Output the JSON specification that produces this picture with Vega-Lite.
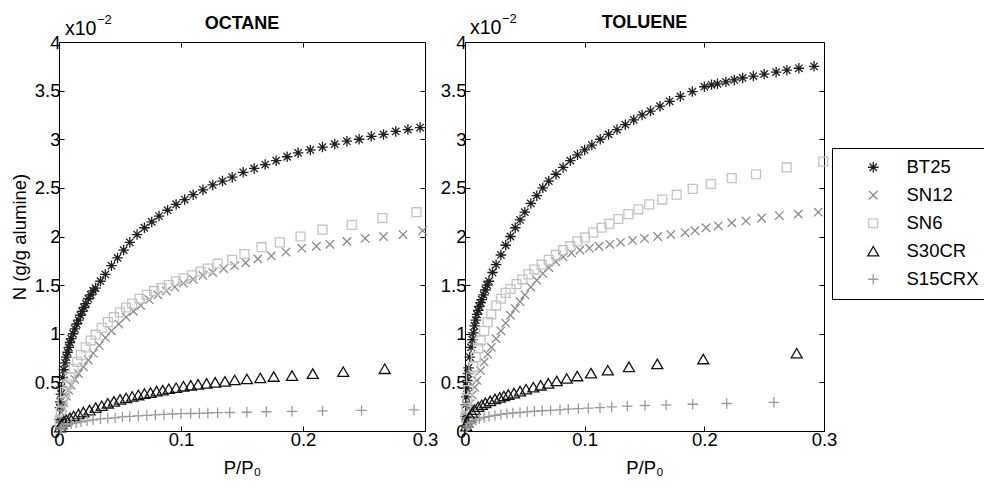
{
"$schema": "https://vega.github.io/schema/vega-lite/v6.json",
"background": "white",
"padding": {"left": 9, "top": 12, "right": 0, "bottom": 0},
"config": {
 "font": "Liberation Sans",
 "view": {"stroke": "#000", "strokeWidth": 1},
 "axis": {"grid": false, "domain": false, "tickColor": "#000", "tickSize": -5, "labelColor": "#000", "labelFontSize": 18.5, "labelFont": "Liberation Sans", "titleFont": "Liberation Sans", "titleFontSize": 18.5, "titleFontWeight": "normal", "titleColor": "#000", "labelFlush": false, "labelOverlap": false, "labelPadding": 4},
 "title": {"fontSize": 18, "fontWeight": "bold", "font": "Liberation Sans", "color": "#000", "offset": -19},
 "legend": {"orient": "none", "legendX": 773, "legendY": 106, "strokeColor": "#000", "strokeWidth": 1, "fillColor": "white", "padding": 10, "rowPadding": 9, "symbolOffset": 22, "labelOffset": 24, "labelFontSize": 18.5, "labelFont": "Liberation Sans", "labelColor": "#000", "symbolStrokeWidth": 1.3, "symbolSize": 110}
},
"datasets": {
 "d": [
{"p":"O","s":"BT25","x":0.0003,"y":0.12},{"p":"O","s":"BT25","x":0.0007,"y":0.24},{"p":"O","s":"BT25","x":0.001,"y":0.30},{"p":"O","s":"BT25","x":0.0015,"y":0.38},{"p":"O","s":"BT25","x":0.002,"y":0.45},{"p":"O","s":"BT25","x":0.003,"y":0.55},{"p":"O","s":"BT25","x":0.004,"y":0.63},{"p":"O","s":"BT25","x":0.005,"y":0.70},{"p":"O","s":"BT25","x":0.006,"y":0.76},{"p":"O","s":"BT25","x":0.007,"y":0.81},{"p":"O","s":"BT25","x":0.008,"y":0.86},{"p":"O","s":"BT25","x":0.009,"y":0.91},{"p":"O","s":"BT25","x":0.010,"y":0.95},{"p":"O","s":"BT25","x":0.0115,"y":1.00},{"p":"O","s":"BT25","x":0.013,"y":1.05},{"p":"O","s":"BT25","x":0.0145,"y":1.10},{"p":"O","s":"BT25","x":0.016,"y":1.14},{"p":"O","s":"BT25","x":0.0175,"y":1.19},{"p":"O","s":"BT25","x":0.019,"y":1.23},{"p":"O","s":"BT25","x":0.0205,"y":1.27},{"p":"O","s":"BT25","x":0.022,"y":1.31},{"p":"O","s":"BT25","x":0.024,"y":1.36},{"p":"O","s":"BT25","x":0.026,"y":1.40},{"p":"O","s":"BT25","x":0.028,"y":1.44},{"p":"O","s":"BT25","x":0.030,"y":1.47},{"p":"O","s":"BT25","x":0.034,"y":1.54},{"p":"O","s":"BT25","x":0.038,"y":1.61},{"p":"O","s":"BT25","x":0.043,"y":1.70},{"p":"O","s":"BT25","x":0.048,"y":1.78},{"p":"O","s":"BT25","x":0.053,"y":1.86},{"p":"O","s":"BT25","x":0.058,"y":1.94},{"p":"O","s":"BT25","x":0.064,"y":2.02},{"p":"O","s":"BT25","x":0.070,"y":2.09},{"p":"O","s":"BT25","x":0.076,"y":2.15},{"p":"O","s":"BT25","x":0.082,"y":2.21},{"p":"O","s":"BT25","x":0.089,"y":2.27},{"p":"O","s":"BT25","x":0.096,"y":2.33},{"p":"O","s":"BT25","x":0.103,"y":2.38},{"p":"O","s":"BT25","x":0.110,"y":2.43},{"p":"O","s":"BT25","x":0.118,"y":2.48},{"p":"O","s":"BT25","x":0.126,"y":2.53},{"p":"O","s":"BT25","x":0.134,"y":2.57},{"p":"O","s":"BT25","x":0.142,"y":2.61},{"p":"O","s":"BT25","x":0.151,"y":2.66},{"p":"O","s":"BT25","x":0.160,"y":2.70},{"p":"O","s":"BT25","x":0.169,"y":2.74},{"p":"O","s":"BT25","x":0.178,"y":2.78},{"p":"O","s":"BT25","x":0.187,"y":2.82},{"p":"O","s":"BT25","x":0.196,"y":2.86},{"p":"O","s":"BT25","x":0.206,"y":2.89},{"p":"O","s":"BT25","x":0.216,"y":2.92},{"p":"O","s":"BT25","x":0.226,"y":2.95},{"p":"O","s":"BT25","x":0.236,"y":2.98},{"p":"O","s":"BT25","x":0.246,"y":3.00},{"p":"O","s":"BT25","x":0.256,"y":3.03},{"p":"O","s":"BT25","x":0.266,"y":3.05},{"p":"O","s":"BT25","x":0.276,"y":3.08},{"p":"O","s":"BT25","x":0.286,"y":3.10},{"p":"O","s":"BT25","x":0.296,"y":3.12},
{"p":"O","s":"SN12","x":0.0005,"y":0.07},{"p":"O","s":"SN12","x":0.001,"y":0.12},{"p":"O","s":"SN12","x":0.002,"y":0.19},{"p":"O","s":"SN12","x":0.003,"y":0.24},{"p":"O","s":"SN12","x":0.004,"y":0.29},{"p":"O","s":"SN12","x":0.006,"y":0.36},{"p":"O","s":"SN12","x":0.008,"y":0.42},{"p":"O","s":"SN12","x":0.010,"y":0.47},{"p":"O","s":"SN12","x":0.013,"y":0.53},{"p":"O","s":"SN12","x":0.016,"y":0.59},{"p":"O","s":"SN12","x":0.020,"y":0.66},{"p":"O","s":"SN12","x":0.024,"y":0.73},{"p":"O","s":"SN12","x":0.028,"y":0.80},{"p":"O","s":"SN12","x":0.033,"y":0.88},{"p":"O","s":"SN12","x":0.038,"y":0.96},{"p":"O","s":"SN12","x":0.043,"y":1.03},{"p":"O","s":"SN12","x":0.049,"y":1.10},{"p":"O","s":"SN12","x":0.055,"y":1.17},{"p":"O","s":"SN12","x":0.061,"y":1.23},{"p":"O","s":"SN12","x":0.067,"y":1.29},{"p":"O","s":"SN12","x":0.074,"y":1.35},{"p":"O","s":"SN12","x":0.081,"y":1.40},{"p":"O","s":"SN12","x":0.088,"y":1.44},{"p":"O","s":"SN12","x":0.095,"y":1.48},{"p":"O","s":"SN12","x":0.102,"y":1.52},{"p":"O","s":"SN12","x":0.110,"y":1.56},{"p":"O","s":"SN12","x":0.118,"y":1.60},{"p":"O","s":"SN12","x":0.126,"y":1.63},{"p":"O","s":"SN12","x":0.135,"y":1.67},{"p":"O","s":"SN12","x":0.144,"y":1.70},{"p":"O","s":"SN12","x":0.153,"y":1.73},{"p":"O","s":"SN12","x":0.163,"y":1.77},{"p":"O","s":"SN12","x":0.174,"y":1.80},{"p":"O","s":"SN12","x":0.186,"y":1.84},{"p":"O","s":"SN12","x":0.199,"y":1.88},{"p":"O","s":"SN12","x":0.211,"y":1.90},{"p":"O","s":"SN12","x":0.222,"y":1.92},{"p":"O","s":"SN12","x":0.236,"y":1.95},{"p":"O","s":"SN12","x":0.251,"y":1.98},{"p":"O","s":"SN12","x":0.266,"y":2.00},{"p":"O","s":"SN12","x":0.282,"y":2.02},{"p":"O","s":"SN12","x":0.298,"y":2.06},
{"p":"O","s":"SN6","x":0.0005,"y":0.10},{"p":"O","s":"SN6","x":0.0015,"y":0.20},{"p":"O","s":"SN6","x":0.003,"y":0.30},{"p":"O","s":"SN6","x":0.005,"y":0.40},{"p":"O","s":"SN6","x":0.007,"y":0.48},{"p":"O","s":"SN6","x":0.009,"y":0.55},{"p":"O","s":"SN6","x":0.012,"y":0.64},{"p":"O","s":"SN6","x":0.015,"y":0.71},{"p":"O","s":"SN6","x":0.018,"y":0.78},{"p":"O","s":"SN6","x":0.022,"y":0.86},{"p":"O","s":"SN6","x":0.026,"y":0.93},{"p":"O","s":"SN6","x":0.030,"y":0.99},{"p":"O","s":"SN6","x":0.035,"y":1.06},{"p":"O","s":"SN6","x":0.040,"y":1.12},{"p":"O","s":"SN6","x":0.045,"y":1.17},{"p":"O","s":"SN6","x":0.050,"y":1.22},{"p":"O","s":"SN6","x":0.055,"y":1.27},{"p":"O","s":"SN6","x":0.060,"y":1.31},{"p":"O","s":"SN6","x":0.066,"y":1.36},{"p":"O","s":"SN6","x":0.072,"y":1.40},{"p":"O","s":"SN6","x":0.078,"y":1.44},{"p":"O","s":"SN6","x":0.084,"y":1.47},{"p":"O","s":"SN6","x":0.090,"y":1.50},{"p":"O","s":"SN6","x":0.096,"y":1.54},{"p":"O","s":"SN6","x":0.102,"y":1.57},{"p":"O","s":"SN6","x":0.109,"y":1.60},{"p":"O","s":"SN6","x":0.116,"y":1.64},{"p":"O","s":"SN6","x":0.122,"y":1.67},{"p":"O","s":"SN6","x":0.130,"y":1.72},{"p":"O","s":"SN6","x":0.142,"y":1.76},{"p":"O","s":"SN6","x":0.152,"y":1.82},{"p":"O","s":"SN6","x":0.166,"y":1.89},{"p":"O","s":"SN6","x":0.181,"y":1.94},{"p":"O","s":"SN6","x":0.198,"y":2.00},{"p":"O","s":"SN6","x":0.216,"y":2.07},{"p":"O","s":"SN6","x":0.240,"y":2.12},{"p":"O","s":"SN6","x":0.265,"y":2.19},{"p":"O","s":"SN6","x":0.293,"y":2.25},
{"p":"O","s":"S30CR","x":0.001,"y":0.04},{"p":"O","s":"S30CR","x":0.002,"y":0.07},{"p":"O","s":"S30CR","x":0.004,"y":0.10},{"p":"O","s":"S30CR","x":0.006,"y":0.115},{"p":"O","s":"S30CR","x":0.009,"y":0.135},{"p":"O","s":"S30CR","x":0.012,"y":0.155},{"p":"O","s":"S30CR","x":0.016,"y":0.175},{"p":"O","s":"S30CR","x":0.020,"y":0.195},{"p":"O","s":"S30CR","x":0.025,"y":0.215},{"p":"O","s":"S30CR","x":0.030,"y":0.24},{"p":"O","s":"S30CR","x":0.035,"y":0.26},{"p":"O","s":"S30CR","x":0.040,"y":0.285},{"p":"O","s":"S30CR","x":0.045,"y":0.305},{"p":"O","s":"S30CR","x":0.050,"y":0.325},{"p":"O","s":"S30CR","x":0.055,"y":0.34},{"p":"O","s":"S30CR","x":0.060,"y":0.355},{"p":"O","s":"S30CR","x":0.065,"y":0.37},{"p":"O","s":"S30CR","x":0.070,"y":0.385},{"p":"O","s":"S30CR","x":0.075,"y":0.395},{"p":"O","s":"S30CR","x":0.080,"y":0.41},{"p":"O","s":"S30CR","x":0.085,"y":0.42},{"p":"O","s":"S30CR","x":0.090,"y":0.435},{"p":"O","s":"S30CR","x":0.096,"y":0.445},{"p":"O","s":"S30CR","x":0.102,"y":0.46},{"p":"O","s":"S30CR","x":0.108,"y":0.47},{"p":"O","s":"S30CR","x":0.114,"y":0.48},{"p":"O","s":"S30CR","x":0.121,"y":0.49},{"p":"O","s":"S30CR","x":0.128,"y":0.50},{"p":"O","s":"S30CR","x":0.136,"y":0.51},{"p":"O","s":"S30CR","x":0.144,"y":0.525},{"p":"O","s":"S30CR","x":0.154,"y":0.535},{"p":"O","s":"S30CR","x":0.165,"y":0.545},{"p":"O","s":"S30CR","x":0.176,"y":0.56},{"p":"O","s":"S30CR","x":0.191,"y":0.57},{"p":"O","s":"S30CR","x":0.208,"y":0.59},{"p":"O","s":"S30CR","x":0.233,"y":0.61},{"p":"O","s":"S30CR","x":0.267,"y":0.64},
{"p":"O","s":"S15CRX","x":0.001,"y":0.02},{"p":"O","s":"S15CRX","x":0.002,"y":0.035},{"p":"O","s":"S15CRX","x":0.004,"y":0.05},{"p":"O","s":"S15CRX","x":0.007,"y":0.065},{"p":"O","s":"S15CRX","x":0.010,"y":0.075},{"p":"O","s":"S15CRX","x":0.014,"y":0.085},{"p":"O","s":"S15CRX","x":0.018,"y":0.095},{"p":"O","s":"S15CRX","x":0.023,"y":0.105},{"p":"O","s":"S15CRX","x":0.028,"y":0.115},{"p":"O","s":"S15CRX","x":0.034,"y":0.125},{"p":"O","s":"S15CRX","x":0.040,"y":0.13},{"p":"O","s":"S15CRX","x":0.046,"y":0.135},{"p":"O","s":"S15CRX","x":0.052,"y":0.145},{"p":"O","s":"S15CRX","x":0.058,"y":0.15},{"p":"O","s":"S15CRX","x":0.065,"y":0.155},{"p":"O","s":"S15CRX","x":0.072,"y":0.16},{"p":"O","s":"S15CRX","x":0.079,"y":0.165},{"p":"O","s":"S15CRX","x":0.086,"y":0.17},{"p":"O","s":"S15CRX","x":0.093,"y":0.175},{"p":"O","s":"S15CRX","x":0.100,"y":0.178},{"p":"O","s":"S15CRX","x":0.108,"y":0.18},{"p":"O","s":"S15CRX","x":0.115,"y":0.182},{"p":"O","s":"S15CRX","x":0.122,"y":0.185},{"p":"O","s":"S15CRX","x":0.130,"y":0.188},{"p":"O","s":"S15CRX","x":0.140,"y":0.19},{"p":"O","s":"S15CRX","x":0.154,"y":0.193},{"p":"O","s":"S15CRX","x":0.170,"y":0.198},{"p":"O","s":"S15CRX","x":0.191,"y":0.202},{"p":"O","s":"S15CRX","x":0.216,"y":0.207},{"p":"O","s":"S15CRX","x":0.248,"y":0.212},{"p":"O","s":"S15CRX","x":0.291,"y":0.218},
{"p":"T","s":"BT25","x":0.0003,"y":0.15},{"p":"T","s":"BT25","x":0.0007,"y":0.27},{"p":"T","s":"BT25","x":0.001,"y":0.35},{"p":"T","s":"BT25","x":0.0015,"y":0.44},{"p":"T","s":"BT25","x":0.002,"y":0.52},{"p":"T","s":"BT25","x":0.0025,"y":0.59},{"p":"T","s":"BT25","x":0.003,"y":0.65},{"p":"T","s":"BT25","x":0.004,"y":0.76},{"p":"T","s":"BT25","x":0.005,"y":0.86},{"p":"T","s":"BT25","x":0.006,"y":0.94},{"p":"T","s":"BT25","x":0.007,"y":1.01},{"p":"T","s":"BT25","x":0.008,"y":1.08},{"p":"T","s":"BT25","x":0.009,"y":1.14},{"p":"T","s":"BT25","x":0.010,"y":1.20},{"p":"T","s":"BT25","x":0.011,"y":1.24},{"p":"T","s":"BT25","x":0.012,"y":1.28},{"p":"T","s":"BT25","x":0.013,"y":1.32},{"p":"T","s":"BT25","x":0.014,"y":1.35},{"p":"T","s":"BT25","x":0.0155,"y":1.40},{"p":"T","s":"BT25","x":0.017,"y":1.45},{"p":"T","s":"BT25","x":0.0185,"y":1.50},{"p":"T","s":"BT25","x":0.020,"y":1.54},{"p":"T","s":"BT25","x":0.023,"y":1.63},{"p":"T","s":"BT25","x":0.026,"y":1.71},{"p":"T","s":"BT25","x":0.030,"y":1.81},{"p":"T","s":"BT25","x":0.034,"y":1.91},{"p":"T","s":"BT25","x":0.038,"y":2.00},{"p":"T","s":"BT25","x":0.042,"y":2.09},{"p":"T","s":"BT25","x":0.046,"y":2.17},{"p":"T","s":"BT25","x":0.050,"y":2.25},{"p":"T","s":"BT25","x":0.055,"y":2.34},{"p":"T","s":"BT25","x":0.060,"y":2.42},{"p":"T","s":"BT25","x":0.065,"y":2.50},{"p":"T","s":"BT25","x":0.070,"y":2.57},{"p":"T","s":"BT25","x":0.076,"y":2.64},{"p":"T","s":"BT25","x":0.082,"y":2.71},{"p":"T","s":"BT25","x":0.088,"y":2.78},{"p":"T","s":"BT25","x":0.094,"y":2.84},{"p":"T","s":"BT25","x":0.100,"y":2.89},{"p":"T","s":"BT25","x":0.106,"y":2.94},{"p":"T","s":"BT25","x":0.113,"y":3.00},{"p":"T","s":"BT25","x":0.120,"y":3.05},{"p":"T","s":"BT25","x":0.127,"y":3.10},{"p":"T","s":"BT25","x":0.134,"y":3.15},{"p":"T","s":"BT25","x":0.141,"y":3.20},{"p":"T","s":"BT25","x":0.148,"y":3.25},{"p":"T","s":"BT25","x":0.155,"y":3.29},{"p":"T","s":"BT25","x":0.163,"y":3.34},{"p":"T","s":"BT25","x":0.171,"y":3.39},{"p":"T","s":"BT25","x":0.180,"y":3.44},{"p":"T","s":"BT25","x":0.190,"y":3.49},{"p":"T","s":"BT25","x":0.200,"y":3.54},{"p":"T","s":"BT25","x":0.206,"y":3.56},{"p":"T","s":"BT25","x":0.211,"y":3.57},{"p":"T","s":"BT25","x":0.218,"y":3.59},{"p":"T","s":"BT25","x":0.225,"y":3.61},{"p":"T","s":"BT25","x":0.232,"y":3.63},{"p":"T","s":"BT25","x":0.241,"y":3.65},{"p":"T","s":"BT25","x":0.250,"y":3.67},{"p":"T","s":"BT25","x":0.260,"y":3.69},{"p":"T","s":"BT25","x":0.269,"y":3.71},{"p":"T","s":"BT25","x":0.279,"y":3.73},{"p":"T","s":"BT25","x":0.2917,"y":3.75},
{"p":"T","s":"SN12","x":0.0005,"y":0.06},{"p":"T","s":"SN12","x":0.001,"y":0.10},{"p":"T","s":"SN12","x":0.002,"y":0.17},{"p":"T","s":"SN12","x":0.003,"y":0.23},{"p":"T","s":"SN12","x":0.004,"y":0.28},{"p":"T","s":"SN12","x":0.006,"y":0.37},{"p":"T","s":"SN12","x":0.008,"y":0.45},{"p":"T","s":"SN12","x":0.010,"y":0.52},{"p":"T","s":"SN12","x":0.013,"y":0.62},{"p":"T","s":"SN12","x":0.016,"y":0.71},{"p":"T","s":"SN12","x":0.019,"y":0.79},{"p":"T","s":"SN12","x":0.022,"y":0.86},{"p":"T","s":"SN12","x":0.026,"y":0.95},{"p":"T","s":"SN12","x":0.030,"y":1.03},{"p":"T","s":"SN12","x":0.034,"y":1.11},{"p":"T","s":"SN12","x":0.038,"y":1.19},{"p":"T","s":"SN12","x":0.042,"y":1.26},{"p":"T","s":"SN12","x":0.046,"y":1.33},{"p":"T","s":"SN12","x":0.050,"y":1.40},{"p":"T","s":"SN12","x":0.055,"y":1.48},{"p":"T","s":"SN12","x":0.060,"y":1.55},{"p":"T","s":"SN12","x":0.065,"y":1.62},{"p":"T","s":"SN12","x":0.070,"y":1.68},{"p":"T","s":"SN12","x":0.076,"y":1.74},{"p":"T","s":"SN12","x":0.082,"y":1.79},{"p":"T","s":"SN12","x":0.089,"y":1.83},{"p":"T","s":"SN12","x":0.096,"y":1.86},{"p":"T","s":"SN12","x":0.104,"y":1.88},{"p":"T","s":"SN12","x":0.112,"y":1.90},{"p":"T","s":"SN12","x":0.121,"y":1.92},{"p":"T","s":"SN12","x":0.130,"y":1.94},{"p":"T","s":"SN12","x":0.140,"y":1.96},{"p":"T","s":"SN12","x":0.150,"y":1.98},{"p":"T","s":"SN12","x":0.161,"y":2.00},{"p":"T","s":"SN12","x":0.172,"y":2.02},{"p":"T","s":"SN12","x":0.1839,"y":2.04},{"p":"T","s":"SN12","x":0.1922,"y":2.06},{"p":"T","s":"SN12","x":0.2014,"y":2.09},{"p":"T","s":"SN12","x":0.2117,"y":2.11},{"p":"T","s":"SN12","x":0.2229,"y":2.14},{"p":"T","s":"SN12","x":0.2348,"y":2.16},{"p":"T","s":"SN12","x":0.2479,"y":2.19},{"p":"T","s":"SN12","x":0.2627,"y":2.215},{"p":"T","s":"SN12","x":0.2785,"y":2.23},{"p":"T","s":"SN12","x":0.2952,"y":2.25},
{"p":"T","s":"SN6","x":0.0005,"y":0.15},{"p":"T","s":"SN6","x":0.001,"y":0.22},{"p":"T","s":"SN6","x":0.002,"y":0.33},{"p":"T","s":"SN6","x":0.003,"y":0.42},{"p":"T","s":"SN6","x":0.005,"y":0.55},{"p":"T","s":"SN6","x":0.007,"y":0.66},{"p":"T","s":"SN6","x":0.009,"y":0.76},{"p":"T","s":"SN6","x":0.011,"y":0.85},{"p":"T","s":"SN6","x":0.013,"y":0.93},{"p":"T","s":"SN6","x":0.016,"y":1.03},{"p":"T","s":"SN6","x":0.019,"y":1.12},{"p":"T","s":"SN6","x":0.022,"y":1.20},{"p":"T","s":"SN6","x":0.026,"y":1.29},{"p":"T","s":"SN6","x":0.030,"y":1.36},{"p":"T","s":"SN6","x":0.034,"y":1.42},{"p":"T","s":"SN6","x":0.038,"y":1.46},{"p":"T","s":"SN6","x":0.043,"y":1.51},{"p":"T","s":"SN6","x":0.048,"y":1.56},{"p":"T","s":"SN6","x":0.053,"y":1.61},{"p":"T","s":"SN6","x":0.058,"y":1.66},{"p":"T","s":"SN6","x":0.064,"y":1.71},{"p":"T","s":"SN6","x":0.070,"y":1.76},{"p":"T","s":"SN6","x":0.076,"y":1.81},{"p":"T","s":"SN6","x":0.082,"y":1.86},{"p":"T","s":"SN6","x":0.088,"y":1.90},{"p":"T","s":"SN6","x":0.094,"y":1.95},{"p":"T","s":"SN6","x":0.1003,"y":1.99},{"p":"T","s":"SN6","x":0.1072,"y":2.04},{"p":"T","s":"SN6","x":0.1142,"y":2.09},{"p":"T","s":"SN6","x":0.1206,"y":2.13},{"p":"T","s":"SN6","x":0.1281,"y":2.18},{"p":"T","s":"SN6","x":0.1365,"y":2.23},{"p":"T","s":"SN6","x":0.1448,"y":2.28},{"p":"T","s":"SN6","x":0.1540,"y":2.33},{"p":"T","s":"SN6","x":0.1649,"y":2.38},{"p":"T","s":"SN6","x":0.1769,"y":2.43},{"p":"T","s":"SN6","x":0.1903,"y":2.49},{"p":"T","s":"SN6","x":0.2053,"y":2.54},{"p":"T","s":"SN6","x":0.2229,"y":2.60},{"p":"T","s":"SN6","x":0.2432,"y":2.64},{"p":"T","s":"SN6","x":0.2688,"y":2.71},{"p":"T","s":"SN6","x":0.2994,"y":2.77},
{"p":"T","s":"S30CR","x":0.001,"y":0.05},{"p":"T","s":"S30CR","x":0.002,"y":0.09},{"p":"T","s":"S30CR","x":0.004,"y":0.15},{"p":"T","s":"S30CR","x":0.006,"y":0.19},{"p":"T","s":"S30CR","x":0.008,"y":0.22},{"p":"T","s":"S30CR","x":0.011,"y":0.25},{"p":"T","s":"S30CR","x":0.014,"y":0.27},{"p":"T","s":"S30CR","x":0.017,"y":0.29},{"p":"T","s":"S30CR","x":0.021,"y":0.31},{"p":"T","s":"S30CR","x":0.025,"y":0.33},{"p":"T","s":"S30CR","x":0.029,"y":0.345},{"p":"T","s":"S30CR","x":0.0325,"y":0.36},{"p":"T","s":"S30CR","x":0.0362,"y":0.375},{"p":"T","s":"S30CR","x":0.0409,"y":0.39},{"p":"T","s":"S30CR","x":0.046,"y":0.41},{"p":"T","s":"S30CR","x":0.051,"y":0.43},{"p":"T","s":"S30CR","x":0.0571,"y":0.45},{"p":"T","s":"S30CR","x":0.0632,"y":0.47},{"p":"T","s":"S30CR","x":0.0696,"y":0.49},{"p":"T","s":"S30CR","x":0.0766,"y":0.515},{"p":"T","s":"S30CR","x":0.085,"y":0.54},{"p":"T","s":"S30CR","x":0.0938,"y":0.565},{"p":"T","s":"S30CR","x":0.1053,"y":0.595},{"p":"T","s":"S30CR","x":0.1193,"y":0.625},{"p":"T","s":"S30CR","x":0.137,"y":0.66},{"p":"T","s":"S30CR","x":0.1607,"y":0.69},{"p":"T","s":"S30CR","x":0.1991,"y":0.74},{"p":"T","s":"S30CR","x":0.2772,"y":0.80},
{"p":"T","s":"S15CRX","x":0.001,"y":0.03},{"p":"T","s":"S15CRX","x":0.002,"y":0.05},{"p":"T","s":"S15CRX","x":0.004,"y":0.075},{"p":"T","s":"S15CRX","x":0.006,"y":0.09},{"p":"T","s":"S15CRX","x":0.009,"y":0.11},{"p":"T","s":"S15CRX","x":0.012,"y":0.125},{"p":"T","s":"S15CRX","x":0.016,"y":0.14},{"p":"T","s":"S15CRX","x":0.020,"y":0.15},{"p":"T","s":"S15CRX","x":0.025,"y":0.16},{"p":"T","s":"S15CRX","x":0.030,"y":0.17},{"p":"T","s":"S15CRX","x":0.035,"y":0.178},{"p":"T","s":"S15CRX","x":0.040,"y":0.185},{"p":"T","s":"S15CRX","x":0.046,"y":0.19},{"p":"T","s":"S15CRX","x":0.052,"y":0.197},{"p":"T","s":"S15CRX","x":0.058,"y":0.203},{"p":"T","s":"S15CRX","x":0.0645,"y":0.208},{"p":"T","s":"S15CRX","x":0.0715,"y":0.213},{"p":"T","s":"S15CRX","x":0.0794,"y":0.218},{"p":"T","s":"S15CRX","x":0.0863,"y":0.225},{"p":"T","s":"S15CRX","x":0.0947,"y":0.23},{"p":"T","s":"S15CRX","x":0.1030,"y":0.235},{"p":"T","s":"S15CRX","x":0.1128,"y":0.24},{"p":"T","s":"S15CRX","x":0.1226,"y":0.248},{"p":"T","s":"S15CRX","x":0.1356,"y":0.255},{"p":"T","s":"S15CRX","x":0.1504,"y":0.262},{"p":"T","s":"S15CRX","x":0.1680,"y":0.268},{"p":"T","s":"S15CRX","x":0.1903,"y":0.275},{"p":"T","s":"S15CRX","x":0.2187,"y":0.283},{"p":"T","s":"S15CRX","x":0.2582,"y":0.295}
 ]
},
"bounds": "flush",
"spacing": 40,
"resolve": {"scale": {"color": "shared", "shape": "shared"}, "legend": {"color": "shared", "shape": "shared"}},
"hconcat": [
 {
  "width": 366, "height": 389,
  "title": {"text": "OCTANE"},
  "layer": [
   {
    "data": {"name": "d"},
    "transform": [{"filter": "datum.p === 'O'"}],
    "mark": {"type": "point", "filled": false, "strokeWidth": 1.3, "size": 110, "opacity": 1},
    "encoding": {
     "x": {"field": "x", "type": "quantitative", "scale": {"domain": [0, 0.3], "nice": false, "zero": false}, "axis": {"orient": "bottom", "values": [0, 0.1, 0.2, 0.3], "format": "~g", "title": "P/P₀", "titlePadding": 10}},
     "y": {"field": "y", "type": "quantitative", "scale": {"domain": [0, 4], "nice": false}, "axis": {"orient": "left", "values": [0, 0.5, 1, 1.5, 2, 2.5, 3, 3.5, 4], "format": "~g", "title": "N (g/g alumine)", "titleX": -34, "titleBaseline": "alphabetic"}},
     "shape": {"field": "s", "type": "nominal", "scale": {"domain": ["BT25", "SN12", "SN6", "S30CR", "S15CRX"], "range": ["M0,-1L0,1M-1,0L1,0M-0.7,-0.7L0.7,0.7M-0.7,0.7L0.7,-0.7", "M-0.8,-0.8L0.8,0.8M-0.8,0.8L0.8,-0.8", "M-0.85,-0.85L0.85,-0.85L0.85,0.85L-0.85,0.85Z", "M0,-0.9L1.05,0.9L-1.05,0.9Z", "M-1,0L1,0M0,-1L0,1"]}, "legend": {"title": null}},
     "color": {"field": "s", "type": "nominal", "scale": {"domain": ["BT25", "SN12", "SN6", "S30CR", "S15CRX"], "range": ["#1e1e1e", "#8a8a8a", "#c4c4c4", "#111111", "#9a9a9a"]}, "legend": {"title": null}}
    }
   },
   {
    "data": {"values": [{"t": "x10"}]},
    "mark": {"type": "text", "align": "left", "baseline": "alphabetic", "dx": 6, "dy": -7, "fontSize": 19.5, "color": "#000"},
    "encoding": {"x": {"datum": 0, "type": "quantitative", "axis": null}, "y": {"datum": 4, "type": "quantitative", "axis": null}, "text": {"field": "t"}}
   },
   {
    "data": {"values": [{"t": "−2"}]},
    "mark": {"type": "text", "align": "left", "baseline": "alphabetic", "dx": 38, "dy": -18, "fontSize": 13, "color": "#000"},
    "encoding": {"x": {"datum": 0, "type": "quantitative", "axis": null}, "y": {"datum": 4, "type": "quantitative", "axis": null}, "text": {"field": "t"}}
   },
   {
    "data": {"values": [{"t": ""}]},
    "mark": {"type": "point", "opacity": 0},
    "encoding": {
     "x": {"datum": 0, "type": "quantitative", "axis": {"orient": "top", "labels": false, "title": null, "values": [0.1, 0.2]}},
     "y": {"datum": 0, "type": "quantitative", "axis": {"orient": "right", "labels": false, "title": null, "values": [0.5, 1, 1.5, 2, 2.5, 3, 3.5]}}
    }
   }
  ],
  "resolve": {"axis": {"x": "independent", "y": "independent"}}
 },
 {
  "width": 359, "height": 389,
  "title": {"text": "TOLUENE"},
  "layer": [
   {
    "data": {"name": "d"},
    "transform": [{"filter": "datum.p === 'T'"}],
    "mark": {"type": "point", "filled": false, "strokeWidth": 1.3, "size": 110, "opacity": 1},
    "encoding": {
     "x": {"field": "x", "type": "quantitative", "scale": {"domain": [0, 0.3], "nice": false, "zero": false}, "axis": {"orient": "bottom", "values": [0, 0.1, 0.2, 0.3], "format": "~g", "title": "P/P₀", "titlePadding": 10}},
     "y": {"field": "y", "type": "quantitative", "scale": {"domain": [0, 4], "nice": false}, "axis": {"orient": "left", "values": [0, 0.5, 1, 1.5, 2, 2.5, 3, 3.5, 4], "format": "~g", "title": null}},
     "shape": {"field": "s", "type": "nominal", "scale": {"domain": ["BT25", "SN12", "SN6", "S30CR", "S15CRX"], "range": ["M0,-1L0,1M-1,0L1,0M-0.7,-0.7L0.7,0.7M-0.7,0.7L0.7,-0.7", "M-0.8,-0.8L0.8,0.8M-0.8,0.8L0.8,-0.8", "M-0.85,-0.85L0.85,-0.85L0.85,0.85L-0.85,0.85Z", "M0,-0.9L1.05,0.9L-1.05,0.9Z", "M-1,0L1,0M0,-1L0,1"]}, "legend": {"title": null}},
     "color": {"field": "s", "type": "nominal", "scale": {"domain": ["BT25", "SN12", "SN6", "S30CR", "S15CRX"], "range": ["#1e1e1e", "#8a8a8a", "#c4c4c4", "#111111", "#9a9a9a"]}, "legend": {"title": null}}
    }
   },
   {
    "data": {"values": [{"t": "x10"}]},
    "mark": {"type": "text", "align": "left", "baseline": "alphabetic", "dx": 5, "dy": -8, "fontSize": 19.5, "color": "#000"},
    "encoding": {"x": {"datum": 0, "type": "quantitative", "axis": null}, "y": {"datum": 4, "type": "quantitative", "axis": null}, "text": {"field": "t"}}
   },
   {
    "data": {"values": [{"t": "−2"}]},
    "mark": {"type": "text", "align": "left", "baseline": "alphabetic", "dx": 37, "dy": -19, "fontSize": 13, "color": "#000"},
    "encoding": {"x": {"datum": 0, "type": "quantitative", "axis": null}, "y": {"datum": 4, "type": "quantitative", "axis": null}, "text": {"field": "t"}}
   },
   {
    "data": {"values": [{"t": ""}]},
    "mark": {"type": "point", "opacity": 0},
    "encoding": {
     "x": {"datum": 0, "type": "quantitative", "axis": {"orient": "top", "labels": false, "title": null, "values": [0.1, 0.2]}},
     "y": {"datum": 0, "type": "quantitative", "axis": {"orient": "right", "labels": false, "title": null, "values": [0.5, 1, 1.5, 2, 2.5, 3, 3.5]}}
    }
   }
  ],
  "resolve": {"axis": {"x": "independent", "y": "independent"}}
 }
]
}
